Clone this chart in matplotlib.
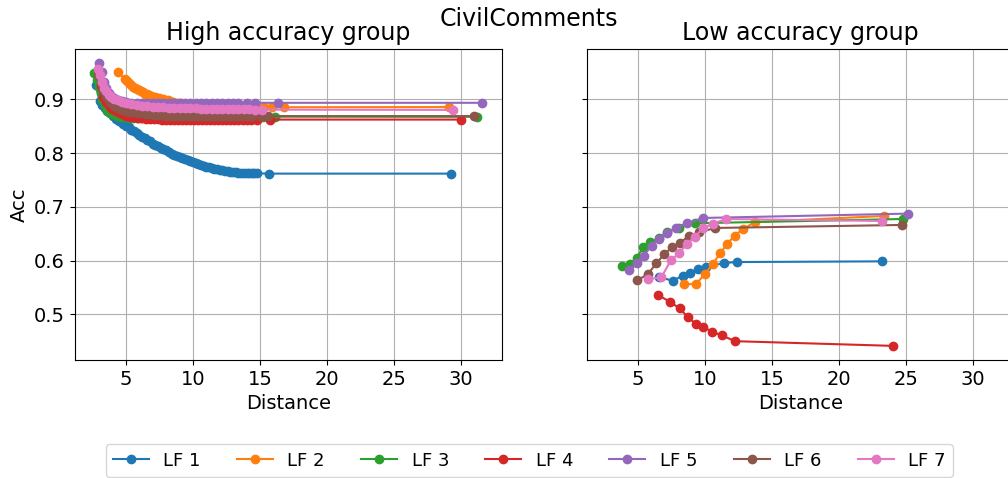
import matplotlib
matplotlib.use("Agg")
import matplotlib.pyplot as plt

labels = ["LF 1", "LF 2", "LF 3", "LF 4", "LF 5", "LF 6", "LF 7"]
colors = ["tab:blue", "tab:orange", "tab:green", "tab:red", "tab:purple", "tab:brown", "tab:pink"]

# high accuracy group (dense curves)
high_x = [
    [2.74, 3.04, 3.2, 3.4, 3.6, 3.8, 4.0, 4.25, 4.5, 4.75, 5.0, 5.2, 5.4, 5.6, 5.8, 6.0, 6.2, 6.4,
     6.6, 6.8, 7.0, 7.2, 7.4, 7.6, 7.8, 8.0, 8.2, 8.4, 8.6, 8.8, 9.0, 9.2, 9.4, 9.6, 9.8, 10.0,
     10.2, 10.4, 10.6, 10.8, 11.0, 11.2, 11.4, 11.6, 11.8, 12.0, 12.2, 12.4, 12.6, 12.8, 13.0,
     13.2, 13.4, 13.6, 13.8, 14.0, 14.2, 14.4, 14.54, 14.8, 15.66, 29.27],
    [4.43, 4.9, 5.1, 5.25, 5.4, 5.55, 5.7, 5.85, 6.0, 6.15, 6.3, 6.45, 6.6, 6.75, 6.9, 7.05, 7.2,
     7.35, 7.5, 7.65, 7.8, 7.95, 8.1, 8.3, 8.5, 8.7, 8.9, 9.1, 9.3, 9.5, 9.7, 9.9, 10.1, 10.3,
     10.5, 10.8, 11.1, 11.4, 11.7, 12.0, 12.3, 12.6, 12.9, 13.2, 13.5, 13.8, 14.1, 14.4, 14.7,
     15.3, 15.9, 16.77, 29.12],
    [2.62, 2.8, 2.99, 3.1, 3.24, 3.4, 3.6, 3.8, 4.0, 4.3, 4.6, 4.9, 5.2, 5.5, 5.8, 6.1, 6.4, 6.7,
     7.0, 7.3, 7.6, 7.9, 8.2, 8.5, 8.8, 9.1, 9.4, 9.7, 10.0, 10.3, 10.6, 10.9, 11.2, 11.5, 11.8,
     12.1, 12.4, 12.7, 13.0, 13.3, 13.6, 13.9, 14.2, 14.6, 15.2, 16.1, 31.18],
    [3.1, 3.3, 3.5, 3.7, 3.9, 4.1, 4.4, 4.7, 5.0, 5.3, 5.6, 5.9, 6.2, 6.5, 6.8, 7.1, 7.4, 7.7, 8.0,
     8.3, 8.6, 8.9, 9.2, 9.5, 9.8, 10.1, 10.4, 10.7, 11.0, 11.3, 11.6, 11.9, 12.2, 12.5, 12.8, 13.1,
     13.4, 13.7, 14.0, 14.3, 14.79, 15.78, 30.0],
    [2.99, 3.19, 3.36, 3.5, 3.7, 3.9, 4.1, 4.4, 4.7, 5.0, 5.4, 5.8, 6.2, 6.6, 7.0, 7.4, 7.8, 8.2,
     8.6, 9.0, 9.4, 9.8, 10.2, 10.6, 11.0, 11.4, 11.8, 12.2, 12.6, 13.0, 13.4, 14.0, 14.61, 16.33,
     31.6],
    [2.9, 3.1, 3.3, 3.5, 3.8, 4.1, 4.4, 4.7, 5.0, 5.3, 5.6, 5.9, 6.2, 6.5, 6.8, 7.1, 7.4, 7.7, 8.0,
     8.3, 8.6, 8.9, 9.2, 9.5, 9.8, 10.1, 10.4, 10.7, 11.0, 11.3, 11.6, 11.9, 12.2, 12.5, 12.8, 13.1,
     13.4, 13.7, 14.0, 14.4, 15.1, 15.58, 30.98],
    [2.94, 3.05, 3.2, 3.35, 3.5, 3.7, 3.9, 4.1, 4.4, 4.7, 5.0, 5.4, 5.8, 6.2, 6.6, 7.0, 7.4, 7.8,
     8.2, 8.6, 9.0, 9.4, 9.8, 10.2, 10.6, 11.0, 11.4, 11.8, 12.2, 12.6, 13.0, 13.4, 13.8, 14.2,
     14.6, 15.16, 29.4],
]
high_y = [
    [0.926, 0.897, 0.890, 0.884, 0.879, 0.874, 0.869, 0.864, 0.859, 0.855, 0.851, 0.848, 0.844,
     0.841, 0.837, 0.834, 0.831, 0.828, 0.825, 0.822, 0.818, 0.815, 0.813, 0.810, 0.807, 0.805,
     0.802, 0.799, 0.797, 0.795, 0.793, 0.791, 0.789, 0.787, 0.785, 0.783, 0.782, 0.780, 0.778,
     0.777, 0.775, 0.774, 0.773, 0.771, 0.770, 0.769, 0.768, 0.767, 0.766, 0.7655, 0.765, 0.7645,
     0.764, 0.7635, 0.763, 0.763, 0.7628, 0.7627, 0.7627, 0.7625, 0.762, 0.762],
    [0.951, 0.938, 0.934, 0.931, 0.927, 0.924, 0.922, 0.919, 0.917, 0.915, 0.913, 0.911, 0.910,
     0.908, 0.907, 0.905, 0.904, 0.903, 0.902, 0.901, 0.900, 0.899, 0.898, 0.8965, 0.895, 0.894,
     0.8933, 0.8926, 0.892, 0.8913, 0.8906, 0.890, 0.8893, 0.8888, 0.8885, 0.888, 0.8877, 0.8873,
     0.887, 0.8868, 0.8866, 0.8864, 0.8862, 0.886, 0.886, 0.886, 0.886, 0.886, 0.886, 0.886,
     0.8858, 0.8855, 0.8858],
    [0.949, 0.937, 0.923, 0.912, 0.899, 0.889, 0.880, 0.875, 0.872, 0.870, 0.868, 0.8665, 0.866,
     0.8655, 0.865, 0.865, 0.865, 0.865, 0.865, 0.865, 0.865, 0.865, 0.865, 0.865, 0.865, 0.865,
     0.865, 0.865, 0.865, 0.865, 0.865, 0.865, 0.865, 0.865, 0.865, 0.865, 0.865, 0.865, 0.865,
     0.865, 0.865, 0.865, 0.865, 0.866, 0.867, 0.868, 0.8677],
    [0.925, 0.905, 0.895, 0.889, 0.884, 0.880, 0.876, 0.873, 0.870, 0.868, 0.867, 0.866, 0.865,
     0.8645, 0.864, 0.8635, 0.863, 0.8625, 0.862, 0.862, 0.8615, 0.8615, 0.861, 0.861, 0.861,
     0.861, 0.861, 0.861, 0.861, 0.861, 0.861, 0.861, 0.861, 0.861, 0.861, 0.861, 0.861, 0.861,
     0.861, 0.861, 0.8625, 0.8625, 0.8625],
    [0.967, 0.951, 0.933, 0.922, 0.912, 0.906, 0.902, 0.899, 0.897, 0.895, 0.894, 0.893, 0.8928,
     0.8926, 0.8925, 0.8925, 0.8926, 0.8928, 0.893, 0.893, 0.8932, 0.8933, 0.8934, 0.8935, 0.8935,
     0.8936, 0.8936, 0.8937, 0.8937, 0.8937, 0.8937, 0.8937, 0.8937, 0.8937, 0.8937],
    [0.945, 0.930, 0.915, 0.904, 0.895, 0.888, 0.884, 0.881, 0.879, 0.877, 0.876, 0.875, 0.874,
     0.873, 0.872, 0.8715, 0.871, 0.8705, 0.870, 0.8697, 0.8694, 0.869, 0.869, 0.8688, 0.8686,
     0.8685, 0.8685, 0.8685, 0.8685, 0.8685, 0.8685, 0.8685, 0.8685, 0.8685, 0.8685, 0.8685,
     0.8685, 0.8685, 0.8685, 0.8688, 0.869, 0.869, 0.869],
    [0.956, 0.945, 0.932, 0.922, 0.915, 0.909, 0.905, 0.901, 0.898, 0.895, 0.893, 0.891, 0.889,
     0.888, 0.887, 0.886, 0.8855, 0.885, 0.8847, 0.8843, 0.884, 0.8838, 0.8835, 0.8833, 0.8831,
     0.883, 0.8828, 0.8826, 0.8824, 0.8822, 0.882, 0.8818, 0.8816, 0.8814, 0.8812, 0.881, 0.8805],
]

# low accuracy group
low_x = [
    [6.60, 7.59, 8.34, 8.92, 9.49, 10.06, 11.41, 12.41, 23.21],
    [8.42, 9.34, 10.01, 10.61, 11.14, 11.66, 12.21, 12.88, 13.76, 23.39],
    [3.83, 4.38, 4.93, 5.40, 5.92, 6.57, 7.20, 8.04, 9.24, 24.76],
    [6.52, 7.42, 8.12, 8.72, 9.32, 9.89, 10.51, 11.26, 12.26, 24.01],
    [4.30, 4.93, 5.42, 6.02, 6.57, 7.17, 7.87, 8.67, 9.84, 25.16],
    [4.93, 5.72, 6.37, 6.97, 7.57, 8.14, 8.82, 9.57, 10.76, 24.71],
    [5.77, 6.75, 7.45, 8.07, 8.67, 9.24, 9.87, 10.59, 11.59, 23.21],
]
low_y = [
    [0.5696, 0.5627, 0.572, 0.5776, 0.585, 0.588, 0.5957, 0.5975, 0.5988],
    [0.5565, 0.5565, 0.5758, 0.5944, 0.6143, 0.631, 0.6466, 0.6596, 0.672, 0.6832],
    [0.5907, 0.5932, 0.6056, 0.626, 0.6342, 0.6416, 0.654, 0.6615, 0.6696, 0.6776],
    [0.536, 0.523, 0.5112, 0.495, 0.4826, 0.4764, 0.4683, 0.4609, 0.4503, 0.4416],
    [0.5826, 0.5957, 0.6093, 0.628, 0.641, 0.6509, 0.6615, 0.6696, 0.6795, 0.6876],
    [0.5634, 0.5745, 0.595, 0.6124, 0.6255, 0.6335, 0.646, 0.6528, 0.6609, 0.6665],
    [0.5658, 0.569, 0.6006, 0.6143, 0.631, 0.6447, 0.6602, 0.669, 0.6776, 0.6739],
]

fig = plt.figure(figsize=(10.08, 4.78), dpi=100)
ax1 = fig.add_axes([0.0741, 0.2469, 0.4236, 0.650])
ax2 = fig.add_axes([0.582, 0.2469, 0.4236, 0.650], sharex=ax1, sharey=ax1)

for i in range(len(labels)):
    ax1.plot(high_x[i], high_y[i], marker="o", color=colors[i], label=labels[i])
    ax2.plot(low_x[i], low_y[i], marker="o", color=colors[i])

for ax, title in [(ax1, "High accuracy group"), (ax2, "Low accuracy group")]:
    ax.set_title(title, fontsize=17, pad=7)
    ax.set_xlabel("Distance", fontsize=14)
    ax.grid(True)
    ax.tick_params(labelsize=14)
ax1.set_ylabel("Acc", fontsize=14)
ax2.tick_params(labelleft=False)
ax1.set_yticks([0.5, 0.6, 0.7, 0.8, 0.9])
ax1.set_xticks([5, 10, 15, 20, 25, 30])

fig.suptitle("CivilComments", fontsize=17, x=0.525, y=0.985)
fig.legend(loc="center", bbox_to_anchor=(0.525, 0.0366), ncol=7, fontsize=13)

fig.savefig("out.png", dpi=100)
